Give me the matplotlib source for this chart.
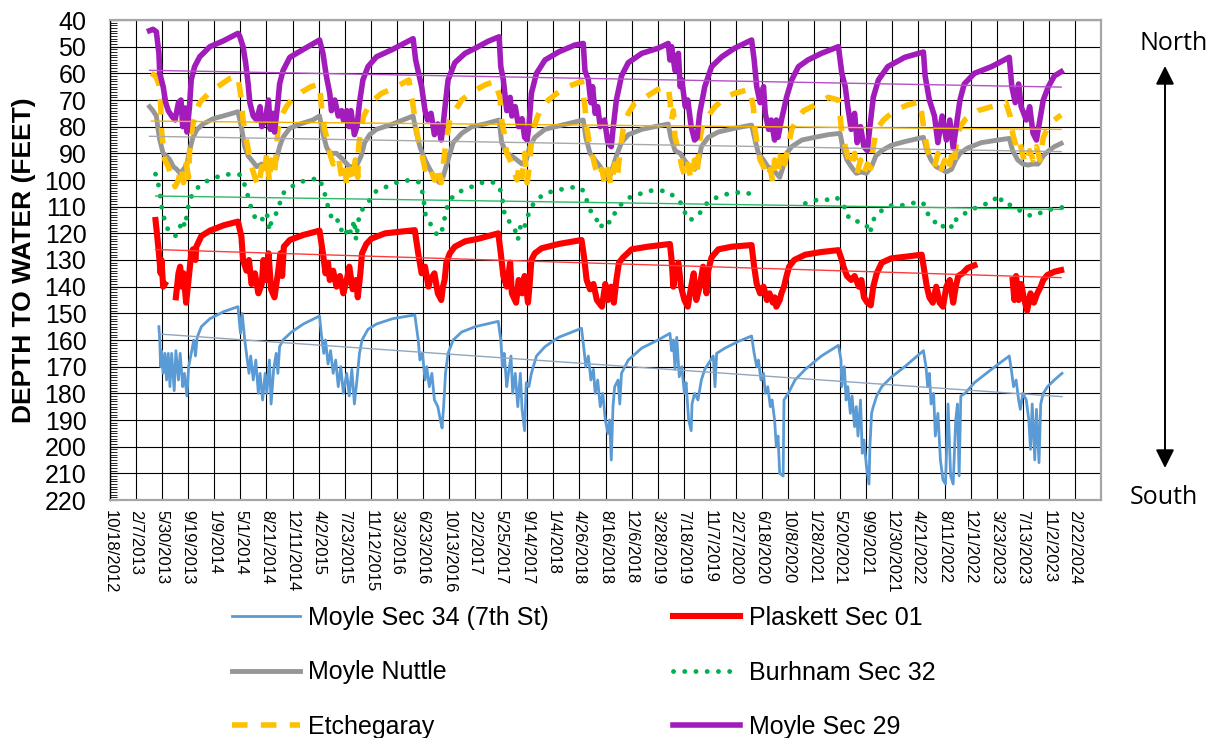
import numpy as np
import pandas as pd
import matplotlib
matplotlib.use('Agg')
import matplotlib.pyplot as plt
import matplotlib.dates as mdates
from matplotlib.ticker import MultipleLocator
from matplotlib.patches import ArrowStyle

plt.rcParams['font.family'] = ['Liberation Sans', 'DejaVu Sans']

# (decimal year, depth to water in feet)
moyle34 = [
    (2013.37, 155), (2013.38, 160), (2013.39, 170), (2013.40, 164), (2013.42, 172.5), (2013.44, 165), (2013.46, 175),
    (2013.48, 165), (2013.50, 177.5), (2013.52, 165), (2013.55, 179), (2013.57, 164), (2013.60, 175), (2013.62, 165),
    (2013.65, 177.5), (2013.67, 172.5), (2013.70, 181), (2013.72, 170), (2013.75, 165), (2013.78, 160), (2013.80, 166),
    (2013.82, 159), (2013.87, 155), (2013.97, 152), (2014.13, 149.4), (2014.30, 147.5),
    (2014.33, 157.5), (2014.35, 150), (2014.38, 160), (2014.41, 167.5), (2014.43, 172.5), (2014.45, 166), (2014.48, 175),
    (2014.51, 167.5), (2014.54, 180), (2014.56, 172.5), (2014.59, 182.5), (2014.62, 172.5), (2014.64, 180), (2014.67, 167.5),
    (2014.69, 184), (2014.72, 171), (2014.75, 165), (2014.77, 172.5), (2014.79, 162.5), (2014.83, 160), (2014.93, 157),
    (2015.07, 154), (2015.26, 151),
    (2015.28, 157.5), (2015.31, 165), (2015.33, 160), (2015.36, 169), (2015.39, 164), (2015.42, 172.5), (2015.45, 167.5),
    (2015.48, 177.5), (2015.51, 170), (2015.54, 180), (2015.58, 172.5), (2015.61, 181), (2015.64, 171), (2015.67, 184),
    (2015.70, 175), (2015.73, 165), (2015.76, 160), (2015.83, 156), (2015.93, 154), (2016.12, 152), (2016.38, 150.6),
    (2016.42, 160), (2016.44, 167.5), (2016.47, 165), (2016.50, 175), (2016.52, 170), (2016.55, 177.5), (2016.58, 172.5),
    (2016.61, 182.5), (2016.65, 185), (2016.68, 190), (2016.70, 193), (2016.72, 184), (2016.74, 172.5), (2016.77, 165),
    (2016.83, 160), (2016.93, 157), (2017.09, 155), (2017.36, 153),
    (2017.39, 160), (2017.41, 170), (2017.43, 165), (2017.46, 177.5), (2017.48, 172.5), (2017.51, 166), (2017.53, 180),
    (2017.56, 172.5), (2017.59, 185), (2017.62, 172.5), (2017.64, 186), (2017.67, 194), (2017.69, 176), (2017.72, 177.5),
    (2017.75, 172.5), (2017.81, 166), (2017.91, 162.5), (2018.07, 159), (2018.34, 155.6),
    (2018.37, 164), (2018.39, 170), (2018.42, 166), (2018.45, 175), (2018.48, 171), (2018.50, 180), (2018.53, 175),
    (2018.56, 185), (2018.59, 180), (2018.62, 190), (2018.65, 195), (2018.67, 190), (2018.69, 205), (2018.71, 185),
    (2018.73, 177.5), (2018.77, 175), (2018.79, 184), (2018.81, 172.5), (2018.89, 167.5), (2019.05, 163), (2019.24, 160),
    (2019.38, 157.5),
    (2019.40, 164), (2019.42, 160), (2019.44, 171), (2019.46, 159), (2019.49, 173.8), (2019.52, 170), (2019.55, 180),
    (2019.57, 176), (2019.60, 190), (2019.63, 194), (2019.64, 184), (2019.67, 180), (2019.71, 182.5), (2019.75, 175),
    (2019.79, 171), (2019.83, 169), (2019.89, 166), (2019.91, 177.5), (2019.93, 165), (2020.03, 163), (2020.18, 160.6),
    (2020.34, 158.5),
    (2020.37, 165), (2020.40, 170), (2020.42, 167.5), (2020.45, 175), (2020.48, 172.5), (2020.50, 180), (2020.53, 177.5),
    (2020.56, 185), (2020.58, 182.5), (2020.61, 190), (2020.63, 200), (2020.65, 196), (2020.67, 210), (2020.71, 211),
    (2020.72, 182.5), (2020.77, 180), (2020.85, 175), (2020.97, 171), (2021.16, 166), (2021.36, 162),
    (2021.39, 167.5), (2021.40, 177.5), (2021.43, 170), (2021.45, 182.5), (2021.47, 177.5), (2021.50, 187.5), (2021.52, 181),
    (2021.55, 192.5), (2021.57, 185), (2021.59, 196), (2021.62, 182.5), (2021.64, 202.5), (2021.66, 197.5), (2021.69, 207.5),
    (2021.72, 214), (2021.73, 200), (2021.75, 187.5), (2021.77, 185), (2021.81, 181), (2021.87, 177.5), (2021.98, 174),
    (2022.14, 170), (2022.36, 164),
    (2022.39, 170), (2022.41, 177.5), (2022.43, 172.5), (2022.45, 184), (2022.48, 180), (2022.50, 196), (2022.53, 187.5),
    (2022.56, 205), (2022.59, 212.5), (2022.62, 214), (2022.65, 184), (2022.68, 211), (2022.71, 214), (2022.74, 190),
    (2022.76, 184), (2022.78, 211), (2022.80, 181), (2022.85, 180), (2022.96, 176), (2023.16, 171), (2023.37, 166),
    (2023.40, 172.5), (2023.42, 177.5), (2023.45, 175), (2023.48, 182.5), (2023.50, 186), (2023.53, 180), (2023.57, 182.5),
    (2023.60, 190), (2023.62, 201), (2023.64, 184), (2023.67, 205), (2023.69, 186), (2023.72, 206), (2023.74, 184),
    (2023.77, 180), (2023.82, 177.5), (2023.90, 175), (2023.99, 172.5),
]

plaskett = [
    (2013.33, 115), (2013.35, 121), (2013.37, 127.5), (2013.39, 135), (2013.40, 130), (2013.42, 140), (2013.44, 139),
    (2013.50, np.nan),
    (2013.57, 144), (2013.60, 135), (2013.62, 132.5), (2013.64, 140), (2013.66, 135), (2013.69, 146), (2013.71, 140),
    (2013.73, 134), (2013.75, 127.5), (2013.77, 126), (2013.80, 130), (2013.81, 125), (2013.87, 121), (2013.97, 119),
    (2014.13, 117), (2014.30, 115.6),
    (2014.34, 121), (2014.36, 130), (2014.40, 134), (2014.43, 130), (2014.46, 139), (2014.50, 135), (2014.54, 142.5),
    (2014.58, 139), (2014.60, 130), (2014.63, 137.5), (2014.66, 127.5), (2014.69, 141), (2014.73, 144), (2014.77, 135),
    (2014.79, 130), (2014.80, 127.5), (2014.82, 136), (2014.84, 125), (2014.91, 122.5), (2015.07, 120.6), (2015.26, 119),
    (2015.30, 127.5), (2015.33, 135), (2015.36, 131), (2015.38, 137.5), (2015.42, 134), (2015.46, 140), (2015.50, 136),
    (2015.54, 142.5), (2015.58, 137.5), (2015.61, 132.5), (2015.65, 141), (2015.69, 137.5), (2015.71, 144), (2015.74, 135),
    (2015.76, 127.5), (2015.81, 124), (2015.87, 122), (2016.03, 120), (2016.20, 119.4), (2016.38, 118.8),
    (2016.42, 127.5), (2016.46, 135), (2016.50, 132.5), (2016.54, 140), (2016.56, 137.5), (2016.61, 135), (2016.65, 142.5),
    (2016.69, 145), (2016.71, 140), (2016.73, 137.5), (2016.75, 131), (2016.79, 127.5), (2016.85, 125), (2016.97, 123),
    (2017.13, 122), (2017.36, 120),
    (2017.39, 127.5), (2017.42, 136), (2017.46, 140), (2017.50, 131), (2017.52, 142.5), (2017.57, 146), (2017.60, 137.5),
    (2017.64, 142.5), (2017.67, 136), (2017.71, 146), (2017.73, 139), (2017.75, 130), (2017.79, 127.5), (2017.87, 125.6),
    (2018.07, 124), (2018.34, 122.5),
    (2018.37, 129), (2018.40, 137.5), (2018.44, 141), (2018.48, 139), (2018.52, 145), (2018.58, 147.5), (2018.62, 139),
    (2018.65, 145), (2018.69, 140), (2018.72, 146), (2018.75, 137.5), (2018.78, 131), (2018.83, 129), (2018.93, 126),
    (2019.12, 125), (2019.38, 124),
    (2019.40, 130), (2019.42, 140), (2019.44, 135), (2019.48, 131), (2019.51, 140), (2019.55, 145), (2019.59, 147.5),
    (2019.63, 140), (2019.66, 135), (2019.69, 145), (2019.73, 140), (2019.77, 132.5), (2019.81, 142.5), (2019.83, 134),
    (2019.87, 129), (2019.95, 126), (2020.11, 125), (2020.34, 124.4),
    (2020.37, 132.5), (2020.40, 139), (2020.44, 142.5), (2020.48, 140), (2020.52, 145), (2020.55, 142.5), (2020.59, 146),
    (2020.61, 144), (2020.63, 147.5), (2020.67, 145), (2020.69, 142.5), (2020.72, 140), (2020.75, 136), (2020.78, 132.5),
    (2020.84, 130), (2020.97, 128), (2021.16, 127), (2021.36, 126.3),
    (2021.40, 130), (2021.42, 132.5), (2021.46, 136), (2021.51, 137.5), (2021.55, 136), (2021.60, 140), (2021.63, 137.5),
    (2021.66, 144), (2021.70, 146), (2021.74, 147), (2021.77, 140), (2021.81, 135), (2021.87, 131), (2021.98, 129.4),
    (2022.14, 128.8), (2022.34, 128),
    (2022.37, 134), (2022.40, 140), (2022.43, 144), (2022.47, 146), (2022.51, 140), (2022.55, 146), (2022.59, 147.5),
    (2022.63, 140), (2022.67, 137.5), (2022.71, 146), (2022.74, 140), (2022.77, 136), (2022.82, 135), (2022.88, 133),
    (2022.96, 132),
    (2023.20, np.nan),
    (2023.41, 137.5), (2023.43, 145), (2023.45, 136), (2023.48, 145), (2023.51, 139), (2023.54, 144), (2023.58, 149),
    (2023.62, 142.5), (2023.66, 146), (2023.70, 142.5), (2023.74, 140), (2023.77, 137.5), (2023.82, 135.6), (2023.90, 134.4),
    (2023.98, 133.8),
]

nuttle = [
    (2013.26, 72.5), (2013.30, 74), (2013.34, 76), (2013.36, 81), (2013.38, 85), (2013.42, 90), (2013.46, 91),
    (2013.50, 92.5), (2013.54, 95), (2013.58, 96), (2013.62, 97.5), (2013.66, 96), (2013.70, 94), (2013.73, 89),
    (2013.77, 84), (2013.82, 81), (2013.89, 79), (2014.01, 77), (2014.17, 75.6), (2014.30, 74.4),
    (2014.34, 80), (2014.38, 87.5), (2014.42, 91), (2014.46, 92.5), (2014.52, 95), (2014.58, 94), (2014.64, 96),
    (2014.69, 95), (2014.75, 92.5), (2014.79, 87.5), (2014.83, 84), (2014.91, 80.6), (2015.03, 79), (2015.18, 77.5),
    (2015.26, 76),
    (2015.30, 82.5), (2015.34, 87.5), (2015.38, 90), (2015.46, 90), (2015.54, 92.5), (2015.61, 95), (2015.69, 95),
    (2015.75, 91), (2015.79, 86), (2015.85, 83), (2015.93, 81), (2016.12, 79), (2016.36, 76),
    (2016.40, 82.5), (2016.44, 87.5), (2016.48, 91), (2016.54, 95), (2016.61, 99), (2016.67, 101), (2016.71, 99),
    (2016.77, 92.5), (2016.83, 86), (2016.93, 82.5), (2017.05, 80), (2017.20, 79), (2017.37, 77.5),
    (2017.40, 86), (2017.46, 90), (2017.52, 91), (2017.58, 92.5), (2017.64, 94), (2017.69, 92.5), (2017.73, 87.5),
    (2017.79, 84), (2017.91, 81), (2018.11, 79.4), (2018.36, 77.5),
    (2018.39, 84), (2018.44, 90), (2018.50, 92.5), (2018.56, 95), (2018.61, 97.5), (2018.67, 99), (2018.71, 95),
    (2018.75, 91), (2018.81, 86), (2018.89, 83), (2019.05, 81), (2019.20, 80), (2019.36, 79),
    (2019.39, 84), (2019.44, 89), (2019.50, 90), (2019.55, 92.5), (2019.61, 95), (2019.67, 96), (2019.71, 94),
    (2019.75, 87.5), (2019.83, 84), (2019.95, 82), (2020.14, 80.6), (2020.34, 79.4),
    (2020.38, 85), (2020.42, 90), (2020.48, 92.5), (2020.53, 95), (2020.59, 96), (2020.63, 97.5), (2020.67, 99),
    (2020.71, 95), (2020.75, 90), (2020.81, 87.5), (2020.93, 85), (2021.08, 84), (2021.24, 83), (2021.38, 82.5),
    (2021.41, 87.5), (2021.46, 92.5), (2021.51, 95), (2021.57, 97.5), (2021.63, 97), (2021.69, 97.5), (2021.75, 95),
    (2021.80, 91), (2021.87, 89), (2021.98, 87), (2022.14, 85.6), (2022.36, 84),
    (2022.40, 89), (2022.45, 92.5), (2022.51, 95), (2022.57, 96), (2022.63, 97), (2022.69, 96), (2022.74, 92.5),
    (2022.79, 90), (2022.88, 88), (2023.04, 86), (2023.24, 85), (2023.37, 84.4),
    (2023.41, 89), (2023.47, 92.5), (2023.53, 94), (2023.59, 94.4), (2023.65, 94), (2023.71, 94), (2023.77, 91),
    (2023.82, 89.4), (2023.90, 87.5), (2023.98, 86.3),
]

burhnam = [
    (2013.33, 97.8), (2013.36, 101), (2013.38, 105), (2013.40, 109), (2013.41, 112.5), (2013.44, 115), (2013.48, 119),
    (2013.52, 120), (2013.56, 121), (2013.60, 120), (2013.64, 115), (2013.68, 117.5), (2013.70, 112.5), (2013.73, 107.5),
    (2013.79, 104), (2013.89, 101), (2014.01, 99.4), (2014.13, 98), (2014.24, 97.8), (2014.32, 98),
    (2014.36, 100), (2014.40, 104), (2014.43, 107.5), (2014.46, 111), (2014.50, 114), (2014.54, 115), (2014.56, 114),
    (2014.60, 115), (2014.64, 112.5), (2014.67, 119), (2014.69, 116), (2014.75, 112.5), (2014.79, 109), (2014.83, 105),
    (2014.93, 102.5), (2015.05, 100.6), (2015.16, 99.8), (2015.26, 99.4),
    (2015.32, 105), (2015.36, 110), (2015.40, 114), (2015.44, 116), (2015.48, 115), (2015.52, 119), (2015.56, 121),
    (2015.60, 117.5), (2015.63, 120), (2015.67, 115), (2015.69, 122.5), (2015.73, 112.5), (2015.79, 110), (2015.85, 107.5),
    (2015.93, 104), (2016.05, 102.5), (2016.16, 101), (2016.32, 100), (2016.40, 100.5),
    (2016.44, 101), (2016.48, 106), (2016.50, 112.5), (2016.54, 115), (2016.58, 117.5), (2016.61, 119), (2016.65, 121),
    (2016.69, 120), (2016.72, 116), (2016.74, 112.5), (2016.77, 109), (2016.83, 106), (2016.93, 104), (2017.05, 102.5),
    (2017.17, 101), (2017.28, 100.6), (2017.36, 102),
    (2017.40, 105), (2017.42, 110), (2017.44, 114), (2017.48, 115), (2017.52, 117.5), (2017.56, 119), (2017.59, 122.5),
    (2017.63, 116), (2017.67, 117.5), (2017.69, 115), (2017.72, 112.5), (2017.75, 110), (2017.81, 107.5), (2017.91, 105),
    (2018.03, 104), (2018.18, 103), (2018.30, 102.5),
    (2018.36, 104), (2018.40, 107.5), (2018.44, 111), (2018.48, 114), (2018.52, 115), (2018.56, 118), (2018.60, 116),
    (2018.64, 115), (2018.67, 116), (2018.71, 114), (2018.75, 111), (2018.81, 109), (2018.93, 106), (2019.05, 105),
    (2019.16, 104), (2019.28, 104), (2019.36, 104.4),
    (2019.42, 106), (2019.48, 107.5), (2019.54, 110), (2019.57, 114), (2019.61, 115), (2019.67, 114.4), (2019.73, 112.5),
    (2019.79, 109.4), (2019.87, 107.5), (2019.99, 105.6), (2020.11, 105), (2020.24, 104.4), (2020.36, 105.6),
    (2020.60, np.nan),
    (2020.97, 108.8), (2021.03, 108.5), (2021.10, 107.5), (2021.18, 107.5), (2021.26, 107.3), (2021.34, 106.5),
    (2021.38, 108.5), (2021.42, 110), (2021.46, 110.6), (2021.48, 114.4), (2021.53, 115), (2021.59, 115.6), (2021.65, 116),
    (2021.69, 117), (2021.73, 120), (2021.77, 115), (2021.81, 113), (2021.85, 112), (2021.90, 110.6), (2021.98, 109.6),
    (2022.06, 109.6), (2022.14, 109.4), (2022.22, 108.8), (2022.32, 108),
    (2022.38, 109.4), (2022.41, 112.5), (2022.45, 115), (2022.51, 116), (2022.57, 118), (2022.63, 116), (2022.71, 118),
    (2022.75, 114.4), (2022.82, 113), (2022.88, 112), (2022.94, 111), (2023.04, 109.4), (2023.12, 108.8), (2023.18, 108),
    (2023.24, 105.5), (2023.30, 108.8), (2023.35, 108.8),
    (2023.41, 110), (2023.47, 111), (2023.55, 112.5), (2023.63, 113.5), (2023.71, 112.5), (2023.79, 112), (2023.86, 111),
    (2023.94, 110.6), (2023.99, 110.3),
]

etchegaray = [
    (2013.28, 60), (2013.33, 61), (2013.37, 64), (2013.39, 71), (2013.40, 81), (2013.42, 87.5), (2013.44, 92.5),
    (2013.48, 95), (2013.52, 99), (2013.56, 102.5), (2013.60, 100), (2013.63, 95), (2013.66, 101), (2013.69, 94),
    (2013.72, 99), (2013.73, 90), (2013.75, 82.5), (2013.78, 77.5), (2013.81, 74), (2013.85, 71), (2013.97, 67),
    (2014.09, 64.4), (2014.20, 62), (2014.30, 61),
    (2014.34, 70), (2014.36, 77.5), (2014.40, 85), (2014.43, 90), (2014.46, 95), (2014.50, 99), (2014.54, 102.5),
    (2014.58, 95), (2014.60, 99), (2014.64, 90), (2014.67, 101), (2014.69, 92.5), (2014.73, 97.5), (2014.75, 90),
    (2014.77, 81), (2014.81, 76), (2014.87, 72.5), (2014.93, 70), (2015.05, 67), (2015.16, 65), (2015.26, 64),
    (2015.29, 75), (2015.32, 81), (2015.36, 86), (2015.38, 90), (2015.42, 94), (2015.48, 91), (2015.52, 99),
    (2015.56, 95), (2015.58, 102.5), (2015.62, 96), (2015.65, 101), (2015.68, 92.5), (2015.71, 99), (2015.72, 87.5),
    (2015.75, 80), (2015.78, 76), (2015.86, 71), (2015.99, 67.5), (2016.13, 65.6), (2016.31, 62.5),
    (2016.35, 70), (2016.39, 79), (2016.42, 85), (2016.46, 90), (2016.50, 96), (2016.54, 94), (2016.61, 100),
    (2016.65, 95), (2016.69, 101), (2016.72, 92.5), (2016.75, 85), (2016.79, 77.5), (2016.83, 75), (2016.93, 70),
    (2017.05, 67), (2017.20, 64.4), (2017.32, 63),
    (2017.38, 69), (2017.40, 77.5), (2017.43, 82.5), (2017.46, 90), (2017.50, 92.5), (2017.54, 96), (2017.58, 100),
    (2017.61, 94), (2017.64, 99), (2017.67, 90), (2017.70, 101), (2017.73, 94), (2017.75, 85), (2017.79, 79),
    (2017.85, 74), (2017.95, 70), (2018.05, 67.5), (2018.18, 65), (2018.34, 63),
    (2018.38, 72.5), (2018.40, 80), (2018.43, 86), (2018.47, 91), (2018.50, 95), (2018.54, 99), (2018.58, 96),
    (2018.61, 101), (2018.65, 96), (2018.69, 102), (2018.73, 94), (2018.76, 99), (2018.79, 90), (2018.83, 81),
    (2018.89, 75), (2018.97, 71), (2019.09, 69), (2019.24, 66), (2019.36, 65),
    (2019.38, 70), (2019.40, 77.5), (2019.42, 74), (2019.44, 84), (2019.49, 90), (2019.52, 95), (2019.56, 99),
    (2019.59, 94), (2019.63, 100), (2019.67, 92.5), (2019.70, 97.5), (2019.73, 85), (2019.76, 80), (2019.83, 76),
    (2019.91, 72.5), (2020.03, 69), (2020.14, 67.5), (2020.32, 66),
    (2020.36, 72.5), (2020.38, 81), (2020.41, 87.5), (2020.44, 92.5), (2020.48, 95), (2020.52, 99), (2020.56, 96),
    (2020.59, 101), (2020.61, 92.5), (2020.65, 97.5), (2020.69, 89), (2020.73, 94), (2020.77, 87.5), (2020.81, 81),
    (2020.87, 77.5), (2020.95, 74), (2021.08, 72), (2021.24, 69), (2021.36, 70),
    (2021.38, 76), (2021.40, 82.5), (2021.44, 87.5), (2021.47, 91), (2021.51, 95), (2021.55, 90), (2021.58, 97.5),
    (2021.62, 92.5), (2021.66, 97.5), (2021.70, 94), (2021.74, 95.6), (2021.77, 87.5), (2021.81, 81), (2021.89, 77.5),
    (2022.02, 74), (2022.16, 72), (2022.32, 70.6),
    (2022.35, 77.5), (2022.38, 84), (2022.41, 89), (2022.45, 92.5), (2022.49, 95), (2022.53, 90), (2022.57, 96),
    (2022.61, 92.5), (2022.65, 97), (2022.69, 91), (2022.72, 95), (2022.75, 85), (2022.79, 80), (2022.86, 77),
    (2023.00, 74), (2023.16, 72.5), (2023.33, 71),
    (2023.38, 76), (2023.41, 82.5), (2023.45, 87.5), (2023.49, 85), (2023.53, 91), (2023.57, 94), (2023.61, 89),
    (2023.65, 92.5), (2023.69, 87.5), (2023.73, 92.5), (2023.77, 84), (2023.83, 80), (2023.90, 77.5), (2023.98, 75.6),
]

moyle29 = [
    (2013.26, 44), (2013.30, 43.5), (2013.34, 44.4), (2013.37, 52.5), (2013.38, 60), (2013.42, 65), (2013.45, 71),
    (2013.48, 74), (2013.52, 76), (2013.56, 77.5), (2013.60, 71), (2013.63, 70), (2013.65, 80), (2013.68, 73),
    (2013.70, 82), (2013.73, 72.5), (2013.75, 62.5), (2013.79, 57.5), (2013.85, 53.8), (2013.97, 50), (2014.13, 47.8),
    (2014.30, 45), (2014.32, 46),
    (2014.36, 50), (2014.39, 56), (2014.42, 64), (2014.44, 71), (2014.48, 76), (2014.52, 77.5), (2014.56, 72.5),
    (2014.58, 80), (2014.62, 77.5), (2014.66, 70), (2014.68, 81), (2014.71, 75), (2014.73, 82), (2014.77, 71),
    (2014.79, 64), (2014.83, 59), (2014.91, 54), (2015.07, 51), (2015.26, 47.5),
    (2015.30, 52.5), (2015.34, 61), (2015.38, 67.5), (2015.40, 74), (2015.44, 70), (2015.48, 76), (2015.52, 74),
    (2015.54, 77.5), (2015.58, 74), (2015.61, 80), (2015.63, 74), (2015.67, 83), (2015.70, 80), (2015.73, 71),
    (2015.77, 62.5), (2015.83, 57.5), (2015.93, 53.8), (2016.12, 51), (2016.36, 47),
    (2016.39, 55), (2016.46, 65), (2016.50, 74), (2016.53, 77.5), (2016.57, 75), (2016.61, 83), (2016.65, 79),
    (2016.69, 85), (2016.71, 80), (2016.74, 71), (2016.77, 62.5), (2016.85, 56), (2016.97, 52.5), (2017.09, 50.6),
    (2017.24, 48), (2017.37, 46.3),
    (2017.39, 57.5), (2017.42, 62.5), (2017.46, 74), (2017.50, 69), (2017.52, 76), (2017.56, 72.5), (2017.60, 80),
    (2017.64, 77), (2017.67, 84), (2017.70, 85), (2017.72, 80), (2017.75, 67.5), (2017.81, 60), (2017.91, 55),
    (2018.07, 52), (2018.26, 49.4), (2018.36, 48.8),
    (2018.38, 59), (2018.42, 62.5), (2018.45, 71), (2018.47, 65), (2018.50, 75), (2018.53, 72.5), (2018.56, 80),
    (2018.61, 77.5), (2018.65, 86), (2018.69, 87.5), (2018.71, 81), (2018.75, 70), (2018.81, 61), (2018.89, 56),
    (2019.05, 52.5), (2019.24, 50.6), (2019.36, 48.8),
    (2019.38, 55), (2019.40, 50), (2019.44, 59), (2019.48, 52.5), (2019.50, 65), (2019.52, 62.5), (2019.56, 72.5),
    (2019.59, 70), (2019.63, 80), (2019.67, 85), (2019.70, 84), (2019.73, 75), (2019.79, 65), (2019.87, 57.5),
    (2019.99, 53.8), (2020.14, 50.6), (2020.34, 47.5),
    (2020.37, 55), (2020.40, 65), (2020.44, 71), (2020.48, 65), (2020.50, 75), (2020.54, 81), (2020.57, 77.5),
    (2020.61, 85), (2020.63, 77.5), (2020.65, 84), (2020.69, 77.5), (2020.75, 69), (2020.81, 62.5), (2020.89, 57.5),
    (2021.00, 55), (2021.16, 52.5), (2021.36, 50),
    (2021.40, 60), (2021.44, 65), (2021.47, 72.5), (2021.51, 81), (2021.55, 75), (2021.58, 86), (2021.62, 80),
    (2021.66, 87.5), (2021.70, 89), (2021.73, 80), (2021.77, 69), (2021.83, 62.5), (2021.94, 57.5), (2022.14, 54),
    (2022.36, 52),
    (2022.38, 61), (2022.43, 70), (2022.49, 76), (2022.53, 86), (2022.58, 76), (2022.63, 85), (2022.67, 77.5),
    (2022.71, 88), (2022.75, 79), (2022.79, 70), (2022.84, 64), (2022.96, 60), (2023.16, 57.5), (2023.37, 54),
    (2023.40, 65), (2023.44, 71), (2023.48, 64), (2023.51, 72.5), (2023.57, 77.5), (2023.61, 72.5), (2023.65, 82.5),
    (2023.69, 85), (2023.73, 77.5), (2023.77, 70), (2023.83, 65), (2023.90, 61), (2023.98, 59.4),
]

tick_start = '2012-10-18'
tick_end = '2024-02-22'
axis_end = '2024-06-13'


def to_dates(years):
    out = []
    for y in years:
        yr = int(y)
        start = pd.Timestamp(yr, 1, 1)
        n = (pd.Timestamp(yr + 1, 1, 1) - start).days
        out.append(start + pd.Timedelta(days=(y - yr) * n))
    return mdates.date2num(out)


fig = plt.figure(figsize=(12.18, 7.38), dpi=100)
ax = fig.add_axes([110 / 1218, 1 - 500 / 738, 991 / 1218, 480 / 738])

styles = [
    ('Moyle Sec 34 (7th St)', moyle34, dict(color='#5B9BD5', lw=2.0), '#8FA6BF'),
    ('Plaskett Sec 01', plaskett, dict(color='#FF0000', lw=4.4), '#FF3B3B'),
    ('Moyle Nuttle', nuttle, dict(color='#969696', lw=3.5), '#A8A8A8'),
    ('Burhnam Sec 32', burhnam, dict(color='#00B050', lw=3.5, dashes=(0.01, 2.3),
                                     dash_capstyle='round'), '#2DBA67'),
    ('Etchegaray', etchegaray, dict(color='#FFC000', lw=4.0, dashes=(2.8, 2.4),
                                    dash_capstyle='butt'), '#F2B400'),
    ('Moyle Sec 29', moyle29, dict(color='#A21CBB', lw=4.0), '#B650C8'),
]

handles = {}
trends = []
for name, data, kw, tcol in styles:
    x = to_dates([p[0] for p in data])
    d = np.array([p[1] for p in data], dtype=float)
    h, = ax.plot(x, d, label=name, zorder=3, solid_joinstyle='round', **kw)
    handles[name] = h
    ok = ~np.isnan(d)
    xd = np.arange(x[ok][0], x[ok][-1])
    coef = np.polyfit(xd, np.interp(xd, x[ok], d[ok]), 1)
    trends.append((x[ok][[0, -1]], np.polyval(coef, x[ok][[0, -1]]), tcol))

for xs, ys, tcol in trends:
    ax.plot(xs, ys, color=tcol, lw=1.0, zorder=4)

ax.set_ylim(220, 40)
ax.set_yticks(range(40, 221, 10))
ax.yaxis.set_minor_locator(MultipleLocator(1))
ticks = pd.date_range(tick_start, tick_end, freq='112D')
ax.set_xticks(mdates.date2num(ticks))
ax.set_xticklabels([f'{d.month}/{d.day}/{d.year}' for d in ticks], rotation=-90,
                   fontsize=12, va='top', ha='center')
ax.set_xlim(mdates.date2num(pd.Timestamp(tick_start)), mdates.date2num(pd.Timestamp(axis_end)))

ax.tick_params(axis='y', which='major', labelsize=18, direction='in', length=6, width=0.8, pad=17)
ax.tick_params(axis='y', which='minor', direction='in', length=5, width=0.6)
ax.tick_params(axis='x', which='major', direction='in', length=0, pad=7)
ax.grid(True, which='major', color='black', lw=0.8)
ax.set_axisbelow(True)
for side in ['top', 'right', 'bottom']:
    ax.spines[side].set_color('#A6A6A6')
    ax.spines[side].set_linewidth(1.6)
ax.spines['left'].set_color('black')
ax.spines['left'].set_linewidth(1.0)

ax.set_ylabel('DEPTH TO WATER (FEET)', fontsize=19, fontweight='bold')
ax.yaxis.set_label_coords(-0.075, 0.5)

order = ['Moyle Sec 34 (7th St)', 'Moyle Nuttle', 'Etchegaray',
         'Plaskett Sec 01', 'Burhnam Sec 32', 'Moyle Sec 29']
fig.legend([handles[n] for n in order], order, ncol=2, loc='upper left',
           bbox_to_anchor=(232 / 1218, 1 - 606 / 738), frameon=False, fontsize=18,
           handlelength=2.7, handletextpad=0.35, columnspacing=4.95, labelspacing=1.22,
           borderpad=0, borderaxespad=0)

# North / South direction arrow
ax.annotate('', xy=(1165 / 1218, 1 - 66 / 738), xytext=(1165 / 1218, 1 - 468 / 738),
            xycoords='figure fraction', textcoords='figure fraction',
            arrowprops=dict(arrowstyle=ArrowStyle('<|-|>', head_length=0.8, head_width=0.4),
                            mutation_scale=14, color='black', lw=1.4, shrinkA=0, shrinkB=0))
fig.text(1174 / 1218, 1 - 43 / 738, 'North', ha='center', va='center', fontsize=18,
         family=['Open Sans', 'DejaVu Sans'])
fig.text(1164 / 1218, 1 - 497 / 738, 'South', ha='center', va='center', fontsize=18,
         family=['Open Sans', 'DejaVu Sans'])

fig.savefig('out.png', dpi=100)
